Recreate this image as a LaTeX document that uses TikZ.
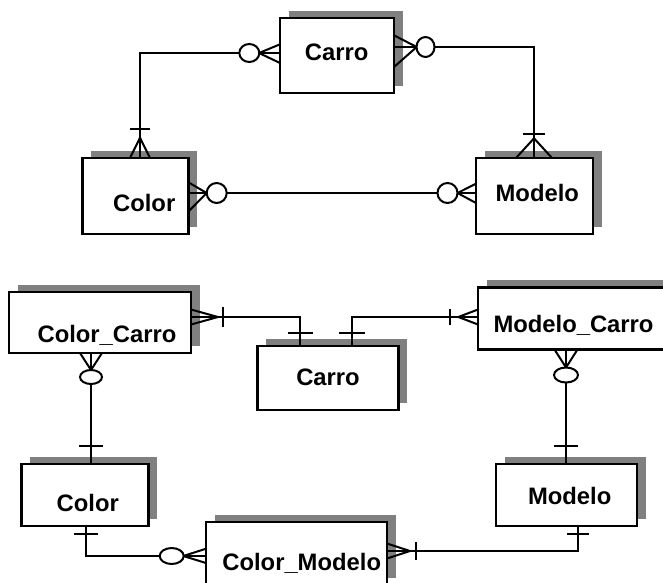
\documentclass[tikz,border=0pt]{standalone}
\usepackage{fontspec}
\setmainfont{Liberation Sans}
\usetikzlibrary{calc,shadows}
\definecolor{shade}{RGB}{128,128,128}
\tikzset{
  entity/.style={draw=black, fill=white, line width=2.4pt, inner sep=0pt, outer sep=0pt,
    general shadow={fill=shade, shadow xshift=8.5pt, shadow yshift=7.5pt}},
  conn/.style={line width=2pt, line cap=butt, line join=miter},
  lbl/.style={font=\bfseries\fontsize{23.8}{28}\selectfont, inner sep=0pt, anchor=base},
}
% crow's foot on a horizontal connector: border point, run to the joint, prong offsets
\newcommand\crowH[4]{\draw[conn] ($(#1)+(0,#3)$) -- ($(#1)+(#2,0)$) -- ($(#1)+(0,#4)$);}
% crow's foot on a vertical connector
\newcommand\crowV[4]{\draw[conn] ($(#1)+(#3,0)$) -- ($(#1)+(0,#2)$) -- ($(#1)+(#4,0)$);}
% optional (zero) mark
\newcommand\ovalmark[5]{\draw[conn, fill=white] ($(#1)+(#2,#3)$) ellipse [x radius=#4pt, y radius=#5pt];}
% bar (one) marks
\newcommand\tickH[3]{\draw[conn] ($(#1)+(#2,#3)$) -- ($(#1)+(#2,-#3)$);}
\newcommand\tickV[3]{\draw[conn] ($(#1)+(-#3,#2)$) -- ($(#1)+(#3,#2)$);}

\begin{document}
\begin{tikzpicture}[x=1pt,y=1pt]
\useasboundingbox (0,0) rectangle (663,-582);
\fill[white] (0,0) rectangle (663,-582);

% ---------- first model ----------
\node[entity, minimum width=114pt, minimum height=75pt] (carroT)  at (337,-55.5) {};
\node[entity, minimum width=106pt, minimum height=76pt] (colorT)  at (135.5,-196) {};
\node[entity, minimum width=117pt, minimum height=76pt] (modeloT) at (534.5,-196) {};

\coordinate (cTL)   at ([yshift=2.5pt]carroT.west);
\coordinate (cTR)   at ([yshift=8.5pt]carroT.east);
\coordinate (colTN) at ([xshift=4.5pt]colorT.north);
\coordinate (colTE) at ([yshift=3pt]colorT.east);
\coordinate (modTN) at ([xshift=-0.5pt]modeloT.north);
\coordinate (modTW) at ([yshift=3pt]modeloT.west);

\draw[conn] (cTL) -| (colTN);
\draw[conn] (cTR) -| (modTN);
\draw[conn] (colTE) -- (modTW);

\crowH{cTL}{-21}{8.7}{-10}   \ovalmark{cTL}{-30.7}{0}{10}{9}
\crowH{cTR}{22.7}{11.7}{-20} \ovalmark{cTR}{31.5}{0}{9}{10}
\crowV{colTN}{20.3}{-10}{10} \tickV{colTN}{29}{10}
\crowH{colTE}{18.2}{10.6}{-18.4} \ovalmark{colTE}{28.2}{0}{10}{10}
\crowV{modTN}{19.7}{-18}{18} \tickV{modTN}{24}{11}
\crowH{modTW}{-18.5}{9.3}{-10} \ovalmark{modTW}{-28.5}{0}{10}{10}

\node[lbl] (tCarroT)  at (336.7,-60)   {Carro};
\node[lbl] (tColorT)  at (144.2,-211.7) {Color};
\node[lbl] (tModeloT) at (537.3,-201.7) {Modelo};

% ---------- second model ----------
\node[entity, minimum width=182pt, minimum height=61pt] (colorCarro)  at (100,-322.5) {};
\node[entity, minimum width=190pt, minimum height=62pt] (modeloCarro) at (573,-318.5) {};
\node[entity, minimum width=141pt, minimum height=64pt] (carroB)      at (328,-378) {};
\node[entity, minimum width=127pt, minimum height=62pt] (colorB)      at (85,-495) {};
\node[entity, minimum width=141pt, minimum height=62pt] (modeloB)     at (566.5,-495) {};
\node[entity, minimum width=181pt, minimum height=63pt] (colorModelo) at (296.5,-553.5) {};

\coordinate (ccE)   at ([yshift=5.5pt]colorCarro.east);
\coordinate (ccS)   at ([xshift=-9pt]colorCarro.south);
\coordinate (mcW)   at ([yshift=1.5pt]modeloCarro.west);
\coordinate (mcS)   at ([xshift=-7pt]modeloCarro.south);
\coordinate (cbN1)  at ([xshift=-28pt]carroB.north);
\coordinate (cbN2)  at ([xshift=24pt]carroB.north);
\coordinate (colBN) at ([xshift=6pt]colorB.north);
\coordinate (colBS) at ([xshift=1pt]colorB.south);
\coordinate (modBN) at ([xshift=-0.5pt]modeloB.north);
\coordinate (modBS) at ([xshift=11.5pt]modeloB.south);
\coordinate (cmW)   at ([yshift=-2.5pt]colorModelo.west);
\coordinate (cmE)   at ([yshift=2.5pt]colorModelo.east);

\draw[conn] (ccE) -| (cbN1);
\draw[conn] (mcW) -| (cbN2);
\draw[conn] (ccS) -- (colBN);
\draw[conn] (mcS) -- (modBN);
\draw[conn] (colBS) |- (cmW);
\draw[conn] (modBS) |- (cmE);

\crowH{ccE}{27}{7.5}{-7.5}     \tickH{ccE}{32}{10}
\crowV{ccS}{-17}{-11}{11}      \ovalmark{ccS}{0}{-24}{11}{7}
\crowH{mcW}{-19.7}{7.5}{-7.5}  \tickH{mcW}{-28}{8}
\crowV{mcS}{-18}{-11.5}{11.5}  \ovalmark{mcS}{0}{-25.5}{12}{7.5}
\tickV{cbN1}{12.7}{12.5}
\tickV{cbN2}{12.7}{13}
\tickV{colBN}{18}{11.7}
\tickV{colBS}{-8}{11.7}
\tickV{modBN}{18}{12}
\tickV{modBS}{-7.5}{11}
\crowH{cmW}{-22.7}{7.3}{-7}    \ovalmark{cmW}{-34.3}{0}{12}{8}
\crowH{cmE}{23}{7.5}{-7.5}     \tickH{cmE}{29}{9}

\node[lbl] (tColorCarro)  at (107,-342)    {Color\_Carro};
\node[lbl] (tModeloCarro) at (573.5,-332)  {Modelo\_Carro};
\node[lbl] (tCarroB)      at (328,-385)    {Carro};
\node[lbl] (tColorB)      at (87.8,-511.7) {Color};
\node[lbl] (tModeloB)     at (569.7,-504)  {Modelo};
\node[lbl] (tColorModelo) at (301.7,-570)  {Color\_Modelo};
\end{tikzpicture}
\end{document}
